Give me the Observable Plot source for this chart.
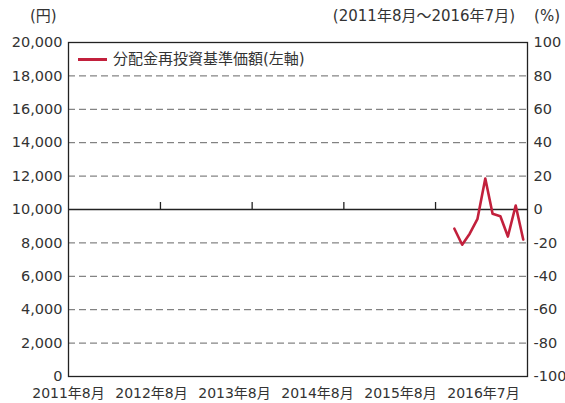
<!DOCTYPE html>
<html><head><meta charset="utf-8">
<script src="https://cdn.jsdelivr.net/npm/d3@7"></script>
<script src="https://cdn.jsdelivr.net/npm/@observablehq/plot@0.6"></script>
<style>
body{margin:0;background:#fff;}
#wrap{position:relative;width:565px;height:403px;overflow:hidden;font-family:"DejaVu Sans","Noto Sans CJK JP",sans-serif;color:#333;}
.abs{position:absolute;white-space:nowrap;line-height:1;}
#wrap svg{position:absolute;left:0;}
</style></head><body><div id="wrap"></div>
<script>
// ---- data ----
const months = ["2015-10-15","2015-11-15","2015-12-15","2016-01-15","2016-02-15","2016-03-15","2016-04-15","2016-05-15","2016-06-15","2016-07-15"];
const navValues = [8850, 7890, 8550, 9440, 11850, 9740, 9600, 8380, 10240, 8200];
const yTicks = [0,2000,4000,6000,8000,10000,12000,14000,16000,18000,20000];
const yTickLabels = ["0","2,000","4,000","6,000","8,000","10,000","12,000","14,000","16,000","18,000","20,000"];
const pctLabels = ["-100","-80","-60","-40","-20","0","20","40","60","80","100"];
const gridValues = [2000,4000,6000,8000,12000,14000,16000,18000];
const baseValue = [10000];
const yearTicks = ["2012-08-01","2013-08-01","2014-08-01","2015-08-01"];
const xDomain = ["2011-08-01","2016-08-01"];
const xLabels = ["2011年8月","2012年8月","2013年8月","2014年8月","2015年8月","2016年7月"];
const seriesName = "分配金再投資基準価額(左軸)";
const unitLeft = "(円)";
const periodText = "(2011年8月～2016年7月)";
const unitRight = "(%)";

const data = months.map((m, i) => ({date: new Date(m), value: navValues[i]}));
const leftMap = new Map(yTicks.map((t, i) => [t, yTickLabels[i]]));
const rightMap = new Map(yTicks.map((t, i) => [t, pctLabels[i]]));
const red = "#c2203c";
const font = "'DejaVu Sans','Noto Sans CJK JP',sans-serif";

const wrap = document.getElementById("wrap");

const main = Plot.plot({
  width: 565, height: 403,
  marginLeft: 68, marginRight: 38, marginTop: 42, marginBottom: 27,
  style: {fontFamily: font, fontSize: "14.5px", color: "#333", background: "transparent"},
  x: {type: "utc", domain: xDomain.map(d => new Date(d)), axis: null},
  y: {domain: [0, 20000]},
  marks: [
    Plot.ruleY(gridValues, {stroke: "#666", strokeDasharray: "7,4", strokeWidth: 1}),
    Plot.ruleY(baseValue, {stroke: "#222", strokeWidth: 1.3}),
    Plot.ruleX(yearTicks.map(d => new Date(d)), {y1: 10000, y2: 10000, insetTop: -7, stroke: "#222", strokeWidth: 1.3}),
    Plot.frame({stroke: "#222", strokeWidth: 1.3}),
    Plot.axisY({anchor: "left", ticks: yTicks, tickFormat: d => leftMap.get(d), tickSize: 0, tickPadding: 6, label: null, fill: "#333"}),
    Plot.axisY({anchor: "right", ticks: yTicks, tickFormat: d => rightMap.get(d), tickSize: 0, tickPadding: 6, label: null, fill: "#333"}),
    Plot.line(data, {x: "date", y: "value", stroke: red, strokeWidth: 2.6, strokeLinejoin: "round"})
  ]
});
main.style.top = "0px";
wrap.appendChild(main);

const labelAxis = Plot.plot({
  width: 565, height: 20,
  marginLeft: 66, marginRight: 81, marginTop: 0, marginBottom: 0,
  style: {fontFamily: font, fontSize: "14px", color: "#333", background: "transparent"},
  x: {type: "point", domain: xLabels, padding: 0, axis: null},
  marks: [
    Plot.text(xLabels, {x: d => d, frameAnchor: "middle", fill: "#333", fontSize: 14})
  ]
});
labelAxis.style.top = "383px";
wrap.appendChild(labelAxis);

function addText(txt, css) {
  const d = document.createElement("div");
  d.className = "abs";
  d.textContent = txt;
  Object.assign(d.style, css);
  wrap.appendChild(d);
  return d;
}
addText(unitLeft, {left: "30px", top: "9px", fontSize: "15px"});
addText(periodText, {right: "50px", top: "9px", fontSize: "15px"});
addText(unitRight, {right: "5px", top: "9px", fontSize: "15px"});

const leg = document.createElement("div");
leg.className = "abs";
Object.assign(leg.style, {left: "78px", top: "52px", fontSize: "15px", display: "flex", alignItems: "center"});
const sw = document.createElement("span");
Object.assign(sw.style, {display: "inline-block", width: "29px", height: "3px", background: red, marginRight: "6px"});
const lt = document.createElement("span");
lt.textContent = seriesName;
leg.appendChild(sw); leg.appendChild(lt);
wrap.appendChild(leg);
</script></body></html>
